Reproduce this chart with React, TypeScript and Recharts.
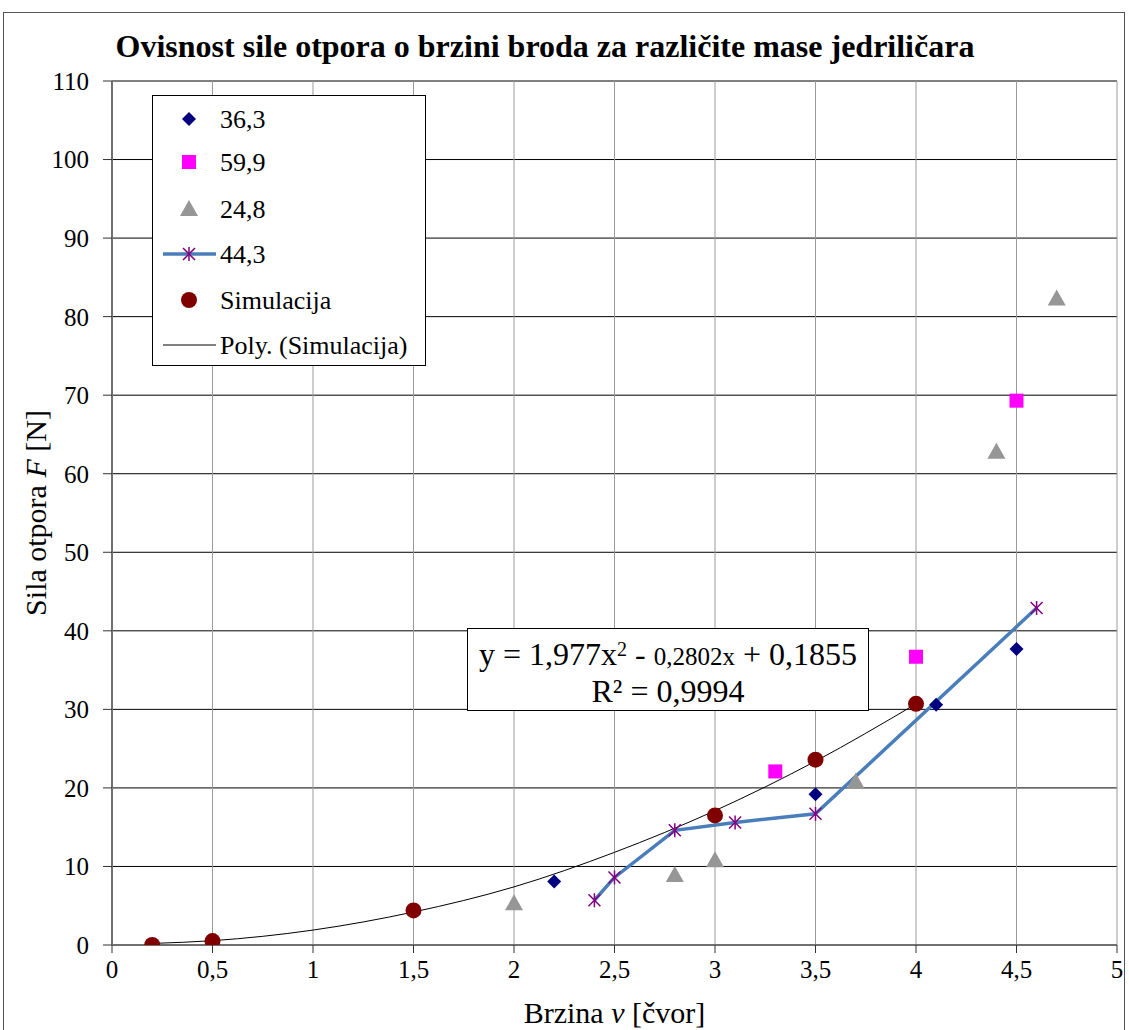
import React from 'react';
import { ComposedChart, XAxis, YAxis, CartesianGrid, Scatter, Line, Legend } from 'recharts';

const xTicks = [0, 0.5, 1, 1.5, 2, 2.5, 3, 3.5, 4, 4.5, 5];
const yTicks = [0, 10, 20, 30, 40, 50, 60, 70, 80, 90, 100, 110];

const series363 = [
  { x: 2.2, y: 8.1 },
  { x: 3.5, y: 19.2 },
  { x: 4.1, y: 30.6 },
  { x: 4.5, y: 37.7 },
];
const series599 = [
  { x: 3.3, y: 22.1 },
  { x: 4.0, y: 36.7 },
  { x: 4.5, y: 69.3 },
];
const series248 = [
  { x: 2.0, y: 5.3 },
  { x: 2.8, y: 8.9 },
  { x: 3.0, y: 10.8 },
  { x: 3.7, y: 20.8 },
  { x: 4.4, y: 62.8 },
  { x: 4.7, y: 82.3 },
];
const series443 = [
  { x: 2.4, y: 5.7 },
  { x: 2.5, y: 8.6 },
  { x: 2.8, y: 14.6 },
  { x: 3.1, y: 15.6 },
  { x: 3.5, y: 16.7 },
  { x: 4.6, y: 42.9 },
];
const simulacija = [
  { x: 0.2, y: 0 },
  { x: 0.5, y: 0.5 },
  { x: 1.5, y: 4.4 },
  { x: 3.0, y: 16.5 },
  { x: 3.5, y: 23.6 },
  { x: 4.0, y: 30.7 },
];
// trendline
const polyTrend = [
  { x: 0.2, y: 0.2 },
  { x: 0.5, y: 0.55 },
  { x: 1.0, y: 1.9 },
  { x: 1.5, y: 4.2 },
  { x: 2.0, y: 7.4 },
  { x: 2.5, y: 11.8 },
  { x: 3.0, y: 17.1 },
  { x: 3.5, y: 23.4 },
  { x: 4.0, y: 30.7 },
];

const FONT = '"Liberation Serif", "Times New Roman", serif';
const NAVY = '#000080';
const MAGENTA = '#FF00FF';
const GRAY = '#969696';
const DARKRED = '#800000';
const PURPLE = '#800080';
const BLUE = '#4A7EBB';

const Diamond = ({ cx, cy }: any) => (
  <polygon points={`${cx},${cy - 7} ${cx + 7},${cy} ${cx},${cy + 7} ${cx - 7},${cy}`} fill={NAVY} />
);
const Square = ({ cx, cy }: any) => <rect x={cx - 7} y={cy - 7} width={14} height={14} fill={MAGENTA} />;
const Triangle = ({ cx, cy }: any) => (
  <polygon points={`${cx},${cy - 9} ${cx + 9},${cy + 7} ${cx - 9},${cy + 7}`} fill={GRAY} />
);
const Circle = ({ cx, cy }: any) => <circle cx={cx} cy={cy} r={8} fill={DARKRED} />;
const Star = ({ cx, cy }: any) => (
  <g stroke={PURPLE} strokeWidth={1.5}>
    <line x1={cx - 6} y1={cy - 6} x2={cx + 6} y2={cy + 6} />
    <line x1={cx - 6} y1={cy + 6} x2={cx + 6} y2={cy - 6} />
    <line x1={cx} y1={cy - 7} x2={cx} y2={cy + 7} />
  </g>
);

const legendRows = [
  { label: '36,3', kind: 'diamond' },
  { label: '59,9', kind: 'square' },
  { label: '24,8', kind: 'triangle' },
  { label: '44,3', kind: 'line' },
  { label: 'Simulacija', kind: 'circle' },
  { label: 'Poly. (Simulacija)', kind: 'poly' },
];

const LegendContent = () => {
  const rowY = [24, 67, 114, 159, 205, 250];
  const mx = 37;
  return (
    <svg width={275} height={272} style={{ display: 'block' }}>
      <rect x={0.5} y={0.5} width={273} height={270} fill="#fff" stroke="#000" strokeWidth={1} />
      {legendRows.map((r, i) => {
        const cy = rowY[i];
        let marker: any = null;
        if (r.kind === 'diamond') marker = <Diamond cx={mx} cy={cy} />;
        else if (r.kind === 'square') marker = <Square cx={mx} cy={cy} />;
        else if (r.kind === 'triangle') marker = <Triangle cx={mx} cy={cy} />;
        else if (r.kind === 'circle') marker = <Circle cx={mx} cy={cy} />;
        else if (r.kind === 'line')
          marker = (
            <g>
              <line x1={11} y1={cy} x2={64} y2={cy} stroke={BLUE} strokeWidth={3.5} />
              <Star cx={mx} cy={cy} />
            </g>
          );
        else marker = <line x1={11} y1={cy} x2={64} y2={cy} stroke="#000" strokeWidth={1} />;
        return (
          <g key={r.label}>
            {marker}
            <text x={68} y={cy + 9} fontFamily={FONT} fontSize={26} fill="#000">
              {r.label}
            </text>
          </g>
        );
      })}
    </svg>
  );
};

const fmt = (v: number) => String(v).replace('.', ',');

const YLabel = ({ viewBox }: any) => {
  const x = 35;
  const y = viewBox.y + viewBox.height / 2;
  return (
    <text
      x={x}
      y={y}
      transform={`rotate(-90, ${x}, ${y})`}
      textAnchor="middle"
      dominantBaseline="central"
      fontFamily={FONT}
      fontSize={30}
      fill="#000"
    >
      Sila otpora <tspan fontStyle="italic">F</tspan> [N]
    </text>
  );
};

const XLabel = ({ viewBox }: any) => {
  const x = viewBox.x + viewBox.width / 2;
  const y = viewBox.y + 78;
  return (
    <text x={x} y={y} textAnchor="middle" fontFamily={FONT} fontSize={30} fill="#000">
      Brzina <tspan fontStyle="italic">v</tspan> [čvor]
    </text>
  );
};

export default function App() {
  return (
    <div style={{ position: 'absolute', left: 0, top: 0, width: 1129, height: 1030, background: '#fff', overflow: 'hidden' }}>
      <div
        style={{
          position: 'absolute',
          left: 3,
          top: 12,
          width: 1122,
          height: 1040,
          border: '1px solid #555',
          boxSizing: 'border-box',
        }}
      />
      <div
        style={{
          position: 'absolute',
          left: 0,
          width: 1090,
          top: 27,
          textAlign: 'center',
          fontFamily: FONT,
          fontWeight: 'bold',
          fontSize: 32,
          lineHeight: '38px',
          color: '#000',
        }}
      >
        Ovisnost sile otpora o brzini broda za različite mase jedriličara
      </div>
      <div style={{ position: 'absolute', left: 0, top: 0 }}>
        <ComposedChart width={1129} height={1030} margin={{ top: 81, right: 12, bottom: 0, left: 0 }}>
          <CartesianGrid vertical={false} stroke="#000" strokeWidth={1} />
          <CartesianGrid horizontal={false} stroke="#9a9a9a" strokeWidth={1} />
          <XAxis
            type="number"
            dataKey="x"
            domain={[0, 5]}
            ticks={xTicks}
            tickFormatter={fmt}
            height={85}
            tickSize={8}
            tickMargin={7}
            axisLine={{ stroke: '#707070', strokeWidth: 2 }}
            tickLine={{ stroke: '#333' }}
            tick={{ fontFamily: FONT, fontSize: 25, fill: '#000' }}
            interval={0}
            allowDataOverflow
            label={<XLabel />}
          />
          <YAxis
            type="number"
            dataKey="y"
            domain={[0, 110]}
            ticks={yTicks}
            width={112}
            tickSize={9}
            tickMargin={14}
            axisLine={{ stroke: '#707070', strokeWidth: 2 }}
            tickLine={{ stroke: '#333' }}
            tick={{ fontFamily: FONT, fontSize: 25, fill: '#000' }}
            interval={0}
            allowDataOverflow
            label={<YLabel />}
          />
          <Legend
            layout="horizontal"
            verticalAlign="middle"
            align="center"
            content={<LegendContent />}
            wrapperStyle={{ left: 152, top: 95, width: 275, height: 272 }}
          />
          <Line
            data={polyTrend}
            dataKey="y"
            type="monotone"
            stroke="#000"
            strokeWidth={1}
            dot={false}
            activeDot={false}
            isAnimationActive={false}
            legendType="none"
          />
          <Scatter data={series363} dataKey="y" shape={<Diamond />} isAnimationActive={false} />
          <Scatter data={series599} dataKey="y" shape={<Square />} isAnimationActive={false} />
          <Scatter data={series248} dataKey="y" shape={<Triangle />} isAnimationActive={false} />
          <Line
            data={series443}
            dataKey="y"
            type="linear"
            stroke={BLUE}
            strokeWidth={3.5}
            dot={(p: any) => <Star key={`s${p.index}`} cx={p.cx} cy={p.cy} />}
            activeDot={false}
            isAnimationActive={false}
          />
          <Scatter data={simulacija} dataKey="y" shape={<Circle />} isAnimationActive={false} />
        </ComposedChart>
      </div>
      <div
        style={{
          position: 'absolute',
          left: 467,
          top: 628,
          width: 402,
          height: 83,
          border: '1px solid #000',
          boxSizing: 'border-box',
          background: '#fff',
          textAlign: 'center',
          fontFamily: FONT,
          fontSize: 32,
          lineHeight: '34px',
          paddingTop: 8,
          color: '#000',
          whiteSpace: 'nowrap',
        }}
      >
        <div>
          y = 1,977x<sup style={{ fontSize: 20, verticalAlign: 'top', lineHeight: '24px' }}>2</sup> -{' '}
          <span style={{ fontSize: 25 }}>0,2802x</span> + 0,1855
        </div>
        <div>R² = 0,9994</div>
      </div>
    </div>
  );
}
